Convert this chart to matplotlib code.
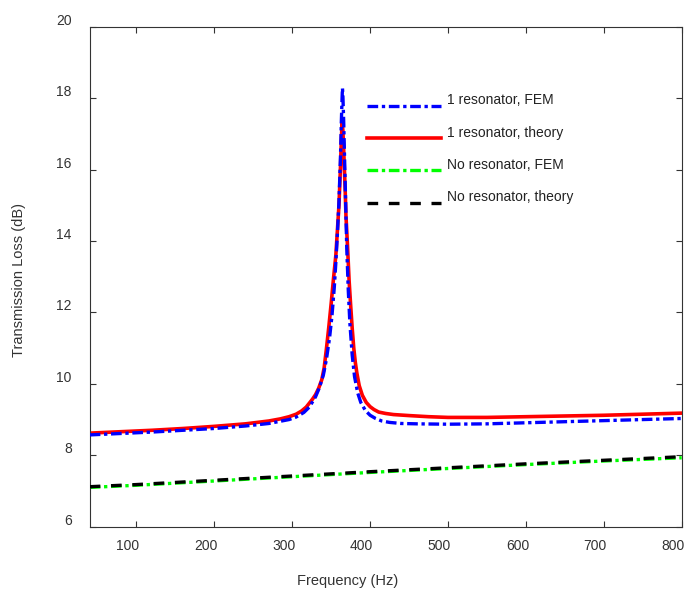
import matplotlib
matplotlib.use("Agg")
import matplotlib.pyplot as plt
from matplotlib.transforms import ScaledTranslation
from matplotlib.legend_handler import HandlerLine2D

plt.rcParams['font.family'] = ['Liberation Sans', 'DejaVu Sans']

# ---- data ----
freq_res_theory = [40, 80, 120, 160, 200, 240, 270, 285, 296, 305, 312, 318, 322, 326,
                   330, 334, 338, 341, 344, 347, 350, 353, 356, 358, 360, 362, 363, 364,
                   365, 366, 367, 368, 369, 371, 373, 375, 377, 379, 381, 383, 386, 390,
                   395, 400, 405, 411, 420, 430, 451, 475, 500, 550, 600, 650, 700, 750,
                   800]
tl_res_theory = [8.62, 8.66, 8.70, 8.75, 8.81, 8.88, 8.96, 9.02, 9.08, 9.15, 9.24, 9.35,
                 9.46, 9.57, 9.70, 9.88, 10.12, 10.45, 11.0, 11.6, 12.25, 12.95, 13.6,
                 14.3, 15.0, 16.1, 16.8, 17.3, 17.1, 16.6, 16.0, 15.4, 14.7, 13.85, 12.9,
                 12.2, 11.55, 11.0, 10.6, 10.3, 9.95, 9.68, 9.48, 9.36, 9.28, 9.21,
                 9.17, 9.14, 9.11, 9.08, 9.06, 9.06, 9.08, 9.10, 9.12, 9.15, 9.18]

freq_res_fem = [40, 80, 120, 160, 200, 240, 270, 296, 305, 315, 322, 330, 335, 340, 344,
                348, 351, 354, 356, 358, 360, 362, 363, 364, 364.5, 365, 366, 367, 368,
                369, 370, 372, 374, 377, 380, 384, 388, 394, 400, 407, 415, 425, 440,
                460, 500, 550, 600, 650, 700, 750, 800]
tl_res_fem = [8.57, 8.61, 8.65, 8.70, 8.75, 8.82, 8.89, 9.00, 9.07, 9.20, 9.35, 9.64,
              9.90, 10.25, 10.7, 11.3, 11.9, 12.7, 13.4, 14.2, 15.1, 16.4, 17.3, 18.0,
              18.28, 18.1, 17.4, 16.5, 15.6, 14.7, 13.8, 12.6, 11.7, 10.8, 10.2, 9.75,
              9.48, 9.25, 9.12, 9.03, 8.96, 8.92, 8.89, 8.88, 8.87, 8.88, 8.91, 8.94,
              8.97, 9.00, 9.03]

freq_nores = [40, 100, 200, 300, 400, 500, 600, 700, 800]
tl_nores_fem = [7.10, 7.16, 7.28, 7.40, 7.52, 7.63, 7.74, 7.84, 7.93]
tl_nores_theory = [7.12, 7.18, 7.30, 7.42, 7.54, 7.65, 7.76, 7.86, 7.96]

labels = ['1 resonator, FEM', '1 resonator, theory', 'No resonator, FEM',
          'No resonator, theory']
xticks = [100, 200, 300, 400, 500, 600, 700, 800]
yticks = [6, 8, 10, 12, 14, 16, 18, 20]

# ---- figure ----
fig = plt.figure(figsize=(6.85, 5.93), dpi=100)
ax = fig.add_axes([89.7 / 685, 1 - 526.7 / 593, (681.7 - 89.7) / 685, 500 / 593])

l1, = ax.plot(freq_res_fem, tl_res_fem, color='#0000ff', lw=2.4,
              dashes=(3.2, 1.1, 1.0, 1.1), zorder=3)
l2, = ax.plot(freq_res_theory, tl_res_theory, color='#ff0000', lw=2.6, zorder=2)
l3, = ax.plot(freq_nores, tl_nores_fem, color='#00ff00', lw=2.4,
              dashes=(3.2, 1.1, 1.0, 1.1), zorder=2)
l4, = ax.plot(freq_nores, tl_nores_theory, color='black', lw=2.4,
              dashes=(3.2, 3.2), zorder=3)

ax.set_xlim(40, 800)
ax.set_ylim(6, 20)
ax.set_xticks(xticks)
ax.set_yticks(yticks)
ax.tick_params(direction='in', length=4, width=0.8, top=True, right=True,
               labelsize=10, colors='#333333')
ax.tick_params(axis='x', pad=9)
ax.tick_params(axis='y', pad=13)
for sp in ax.spines.values():
    sp.set_linewidth(0.8)
    sp.set_color('#333333')

for lab in ax.get_xticklabels():
    lab.set_transform(lab.get_transform() + ScaledTranslation(-0.085, 0, fig.dpi_scale_trans))
for lab in ax.get_yticklabels():
    lab.set_transform(lab.get_transform() + ScaledTranslation(0, 0.075, fig.dpi_scale_trans))

ax.set_xlabel('Frequency (Hz)', fontsize=10.5, color='#333333')
ax.set_ylabel('Transmission Loss (dB)', fontsize=10.5, color='#333333')
ax.xaxis.set_label_coords(0.436, -0.094)
ax.yaxis.set_label_coords(-0.108, 0.493)


def lower_handle(legend_handle, orig_handle):
    legend_handle.update_from(orig_handle)
    legend_handle.set_ydata([y - 4.6 for y in legend_handle.get_ydata()])


leg = ax.legend([l1, l2, l3, l4], labels, frameon=False, fontsize=10,
                handlelength=5.3, handletextpad=0.45, labelspacing=1.31,
                loc='upper left',
                bbox_to_anchor=((367 - 89.7) / 592, 1 - (93.5 - 26.7) / 500),
                borderaxespad=0, borderpad=0,
                handler_map={l: HandlerLine2D(update_func=lower_handle)
                             for l in (l1, l2, l3, l4)})
for t in leg.get_texts():
    t.set_color('#222222')

fig.savefig('out.png', dpi=100)
